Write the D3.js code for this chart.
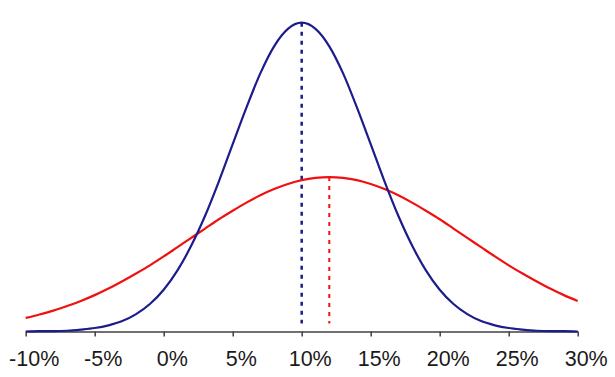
<!DOCTYPE html>
<html>
<head>
<meta charset="utf-8">
<script src="https://cdn.jsdelivr.net/npm/d3@7"></script>
<style>
  body { margin: 0; background: #fff; }
  svg { display: block; }
</style>
</head>
<body>
<svg id="chart" width="615" height="377"></svg>
<script>
// return (%) grid, one point per percent
var returns = d3.range(-10, 31, 1);
var tickValues = [-10, -5, 0, 5, 10, 15, 20, 25, 30];
var tickLabels = ["-10%", "-5%", "0%", "5%", "10%", "15%", "20%", "25%", "30%"];

// curve heights (blue: narrow, red: wide)
var blueValues = [0.00, 0.01, 0.01, 0.02, 0.05, 0.09, 0.16, 0.27, 0.45, 0.71,
                  1.08, 1.58, 2.22, 2.99, 3.88, 4.84, 5.79, 6.67, 7.37, 7.82,
                  7.98, 7.82, 7.37, 6.67, 5.79, 4.84, 3.88, 2.99, 2.22, 1.58,
                  1.08, 0.71, 0.45, 0.27, 0.16, 0.09, 0.05, 0.02, 0.01, 0.01, 0.00];
var redValues  = [0.35, 0.44, 0.54, 0.66, 0.79, 0.94, 1.11, 1.30, 1.50, 1.71,
                  1.94, 2.18, 2.42, 2.66, 2.90, 3.12, 3.33, 3.52, 3.68, 3.81,
                  3.91, 3.97, 3.99, 3.97, 3.91, 3.81, 3.68, 3.52, 3.33, 3.12,
                  2.90, 2.66, 2.42, 2.18, 1.94, 1.71, 1.50, 1.30, 1.11, 0.94, 0.79];
var means = [10, 12];
var peaks = [7.98, 3.99];

var svg = d3.select("#chart");

var x = d3.scaleLinear().domain([-10, 30]).range([25.7, 577.7]);
var y = d3.scaleLinear().domain([0, 7.98]).range([331.5, 22.7]);

// axis
var axis = svg.append("g")
    .attr("transform", "translate(0," + y(0) + ")")
    .call(d3.axisBottom(x)
        .tickValues(tickValues)
        .tickFormat(function (d, i) { return tickLabels[i]; })
        .tickSize(5)
        .tickSizeOuter(0));
axis.select(".domain").attr("stroke", "#404040").attr("stroke-width", 1.5);
axis.selectAll(".tick line").attr("stroke", "#404040").attr("stroke-width", 1.5);
axis.selectAll(".tick text")
    .attr("fill", "#1a1a1a")
    .attr("font-family", "Liberation Sans, Arial, sans-serif")
    .attr("font-size", 21.5)
    .attr("y", 34)
    .attr("dy", 0)
    .attr("dx", 8);

// dashed mean lines
var colors = ["#1c1c8c", "#f01010"];
svg.selectAll("line.mean")
    .data(means)
    .enter().append("line")
    .attr("class", "mean")
    .attr("x1", function (d) { return x(d); })
    .attr("x2", function (d) { return x(d); })
    .attr("y1", function (d, i) { return y(peaks[i]); })
    .attr("y2", y(0) - 8)
    .attr("stroke", function (d, i) { return colors[i]; })
    .attr("stroke-width", function (d, i) { return i === 0 ? 2.5 : 2; })
    .attr("stroke-dasharray", "4,5");

// curves
var line = d3.line()
    .x(function (d, i) { return x(returns[i]); })
    .y(function (d) { return y(d); })
    .curve(d3.curveMonotoneX);

svg.append("path")
    .datum(redValues)
    .attr("d", line)
    .attr("fill", "none")
    .attr("stroke", colors[1])
    .attr("stroke-width", 2.2);

svg.append("path")
    .datum(blueValues)
    .attr("d", line)
    .attr("fill", "none")
    .attr("stroke", colors[0])
    .attr("stroke-width", 2.2);
</script>
</body>
</html>
